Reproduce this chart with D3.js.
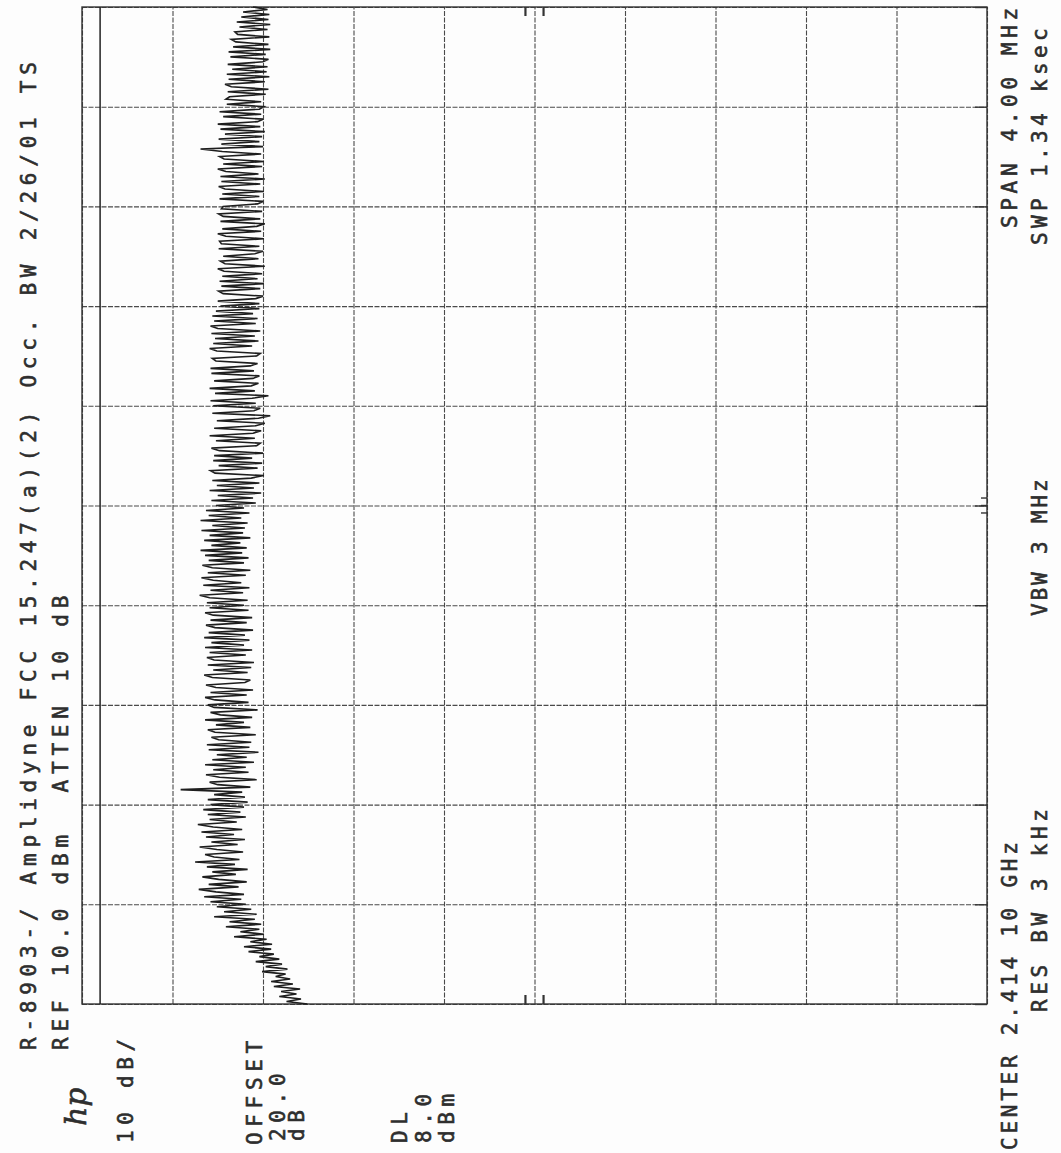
<!DOCTYPE html>
<html lang="en">
<head>
<meta charset="utf-8">
<title>Amplidyne FCC 15.247(a)(2) Occ. BW</title>
<script src="https://d3js.org/d3.v7.min.js"></script>
<style>
  body { margin: 0; background: #fff; }
  text { font-family: "DejaVu Sans Mono", monospace; fill: #2e2e2e; stroke: #2e2e2e; stroke-width: 0.6px; }
</style>
</head>
<body>
<script>
// analyzer settings
var refLevel = 10;          // dBm, left edge
var dbPerDiv = 10;
var divisions = 10;
var displayLine = 8.0;      // DL, dBm
var centerFreq = 2414.10;   // MHz
var spanMHz = 4.00;

// trace, amplitude in dBm, from start of sweep (bottom) to stop (top), 40 points a division
var trace = [
  -14.9,-12.6,-14.2,-11.8,-13.7,-12.0,-14.1,-11.2,-13.3,-10.9,
  -13.0,-11.4,-12.5,-9.9,-12.7,-10.3,-12.1,-9.2,-11.8,-9.6,
  -11.2,-8.4,-10.9,-7.9,-11.0,-8.6,-10.4,-6.8,-10.1,-7.5,
  -9.6,-5.9,-9.8,-6.3,-9.1,-4.6,-9.3,-5.7,-8.7,-4.9,

  -8.1,-4.2,-7.6,-3.5,-7.9,-4.8,-2.9,-7.3,-4.0,-8.2,
  -5.1,-3.3,-7.0,-4.4,-8.3,-3.8,-6.9,-2.5,-7.4,-4.6,
  -3.6,-7.8,-4.9,-3.0,-7.2,-4.3,-8.0,-3.7,-6.8,-3.2,
  -7.7,-4.5,-2.8,-7.1,-4.1,-8.1,-3.9,-7.5,-3.4,-7.9,

  -4.2,-8.3,-3.9,-8.0,-4.6,-7.7,-0.9,-8.6,-5.0,-4.1,
  -9.3,-5.2,-3.7,-8.4,-4.5,-8.1,-3.6,-9.0,-4.4,-8.2,
  -4.9,-9.5,-4.0,-8.5,-3.8,-8.7,-5.1,-4.3,-9.2,-4.7,
  -3.9,-8.6,-4.8,-7.9,-3.6,-8.8,-5.3,-4.2,-9.4,-4.6,

  -3.9,-8.4,-4.7,-3.6,-8.2,-4.2,-8.9,-4.8,-3.7,-8.0,
  -8.6,-4.4,-3.5,-8.3,-4.5,-8.7,-3.9,-9.0,-4.6,-3.8,
  -8.1,-4.1,-8.8,-3.6,-7.9,-4.3,-8.5,-3.5,-8.0,-4.0,
  -8.9,-4.7,-3.7,-8.2,-4.2,-8.8,-4.5,-3.6,-8.4,-4.1,

  -7.9,-3.8,-8.3,-4.1,-3.0,-7.8,-4.2,-8.5,-3.4,-7.6,
  -4.5,-3.2,-8.1,-3.9,-8.6,-4.4,-3.3,-7.9,-4.0,-8.4,
  -3.6,-7.7,-3.1,-8.2,-4.3,-7.5,-3.5,-8.6,-4.1,-7.8,
  -3.2,-8.0,-4.4,-8.3,-3.1,-7.6,-4.0,-8.5,-3.7,-7.9,

  -4.8,-9.2,-4.3,-8.9,-5.0,-9.8,-4.1,-9.0,-4.9,-9.6,
  -4.4,-8.7,-10.1,-4.7,-4.2,-9.4,-5.1,-9.9,-4.5,-8.8,
  -4.6,-10.0,-5.2,-4.3,-9.3,-9.7,-4.8,-9.1,-4.1,-8.9,
  -9.8,-4.6,-9.2,-10.2,-4.9,-9.5,-10.8,-4.4,-9.0,-9.7,

  -4.5,-9.2,-4.2,-8.8,-10.6,-4.7,-9.1,-4.1,-8.7,-9.5,
  -4.6,-8.9,-9.6,-4.3,-9.0,-4.2,-8.6,-9.4,-4.8,-4.4,
  -9.3,-9.7,-4.9,-4.1,-8.8,-4.5,-9.5,-4.7,-9.1,-4.3,
  -9.7,-5.0,-4.2,-9.2,-4.6,-9.4,-4.4,-8.9,-4.8,-9.6,

  -5.3,-9.6,-5.0,-9.2,-10.0,-5.6,-5.1,-9.7,-5.4,-10.1,
  -5.2,-9.4,-5.5,-9.9,-5.7,-5.0,-10.2,-5.8,-5.3,-9.5,
  -5.6,-9.1,-10.0,-5.1,-9.6,-5.4,-5.2,-10.1,-5.9,-5.0,
  -9.8,-5.5,-9.3,-10.2,-5.3,-9.7,-5.6,-5.1,-9.9,-5.4,

  -5.6,-9.4,-10.0,-5.2,-9.6,-5.5,-10.1,-5.8,-5.1,-9.7,
  -5.4,-10.2,-5.3,-9.5,-5.9,-5.0,-9.9,-5.6,-10.1,-5.7,
  -5.2,-9.8,-5.5,-3.1,-10.0,-5.4,-9.6,-5.1,-9.9,-5.8,
  -10.2,-5.3,-9.7,-5.0,-9.4,-10.0,-5.6,-9.8,-5.2,-9.6,

  -10.1,-6.0,-9.8,-5.9,-6.3,-10.3,-6.1,-10.6,-6.5,-5.8,
  -10.2,-6.2,-10.7,-6.0,-10.4,-6.6,-10.5,-6.1,-10.0,-10.6,
  -6.4,-10.3,-6.2,-10.8,-6.7,-10.6,-7.0,-6.5,-10.7,-7.2,
  -6.9,-10.5,-7.4,-10.8,-7.1,-10.6,-7.6,-10.7,-7.8,-10.5,-8.9
];

// annotation text, all printed sideways
var annotations = [
  { t: "R-8903-/ Amplidyne FCC 15.247(a)(2) Occ. BW 2/26/01 TS", x: 36, y: 1050, p: 18.4 },
  { t: "REF 10.0 dBm  ATTEN 10 dB", x: 68, y: 1050, p: 18.4 },
  { t: "10 dB/", x: 133, y: 1143, p: 18.3 },
  { t: "OFFSET", x: 262, y: 1145, p: 18.3 },
  { t: "20.0", x: 285, y: 1141, p: 18.3 },
  { t: "dB", x: 304, y: 1141, p: 18.3 },
  { t: "DL", x: 407, y: 1143, p: 18.3 },
  { t: "8.0", x: 431, y: 1143, p: 18.3 },
  { t: "dBm", x: 454, y: 1143, p: 18.3 },
  { t: "CENTER 2.414 10 GHz", x: 1017, y: 1150, p: 16.4 },
  { t: "RES BW 3 kHz", x: 1047, y: 1012, p: 17.3 },
  { t: "VBW 3 MHz", x: 1047, y: 616, p: 15.5 },
  { t: "SPAN 4.00 MHz", x: 1017, y: 228, p: 17.3 },
  { t: "SWP 1.34 ksec", x: 1047, y: 245, p: 17.0 }
];

var W = 1061, H = 1153;
var plotL = 82, plotR = 987, plotT = 7, plotB = 1004;

var svg = d3.select("body").append("svg")
  .attr("width", W)
  .attr("height", H);

svg.append("rect").attr("width", W).attr("height", H).attr("fill", "#fdfdfd");

// amplitude runs left to right (ref at left), frequency bottom to top
var amp = d3.scaleLinear()
  .domain([refLevel, refLevel - dbPerDiv * divisions])
  .range([plotL, plotR]);

var freq = d3.scaleLinear()
  .domain([centerFreq - spanMHz / 2, centerFreq + spanMHz / 2])
  .range([plotB, plotT]);

var ampTicks = d3.range(0, divisions + 1).map(function(i) { return refLevel - i * dbPerDiv; });
var freqTicks = d3.range(0, divisions + 1).map(function(i) { return centerFreq - spanMHz / 2 + i * spanMHz / divisions; });

// grid from axes, labels switched off
var gx = svg.append("g")
  .attr("transform", "translate(0," + plotB + ")")
  .call(d3.axisTop(amp).tickValues(ampTicks).tickSize(plotB - plotT).tickFormat(""));
var gy = svg.append("g")
  .attr("transform", "translate(" + plotL + ",0)")
  .call(d3.axisRight(freq).tickValues(freqTicks).tickSize(plotR - plotL).tickFormat(""));

[gx, gy].forEach(function(g) {
  g.select(".domain").remove();
  g.selectAll("line")
    .attr("stroke", "#4a4a4a")
    .attr("stroke-width", 1.1)
    .attr("stroke-dasharray", "5,1.5");
});

// short solid ticks where grid meets the right edge
svg.append("g")
  .attr("transform", "translate(" + plotR + ",0)")
  .call(d3.axisLeft(freq).tickValues(freqTicks).tickSize(12).tickFormat(""))
  .call(function(g) {
    g.select(".domain").remove();
    g.selectAll("line").attr("stroke", "#333").attr("stroke-width", 1.4);
  });

// frame
svg.append("rect")
  .attr("x", plotL).attr("y", plotT)
  .attr("width", plotR - plotL).attr("height", plotB - plotT)
  .attr("fill", "none")
  .attr("stroke", "#333")
  .attr("stroke-width", 1.4);

// display line
svg.append("line")
  .attr("x1", amp(displayLine)).attr("x2", amp(displayLine))
  .attr("y1", plotT).attr("y2", plotB)
  .attr("stroke", "#222")
  .attr("stroke-width", 1.5);

// centre marks on the frame
var midAmp = refLevel - dbPerDiv * divisions / 2;
[plotT, plotB].forEach(function(yy) {
  [-1.0, 1.0].forEach(function(d) {
    svg.append("line")
      .attr("x1", amp(midAmp + d)).attr("x2", amp(midAmp + d))
      .attr("y1", yy === plotT ? yy : yy - 9).attr("y2", yy === plotT ? yy + 9 : yy)
      .attr("stroke", "#333").attr("stroke-width", 2.2);
  });
});
[-0.03, 0, 0.03].forEach(function(d) {
  svg.append("line")
    .attr("x1", plotR - 6).attr("x2", plotR)
    .attr("y1", freq(centerFreq + d)).attr("y2", freq(centerFreq + d))
    .attr("stroke", "#333").attr("stroke-width", 1.4);
});

// trace
var line = d3.line()
  .x(function(d) { return amp(d); })
  .y(function(d, i) { return freq(centerFreq - spanMHz / 2 + i * spanMHz / (trace.length - 1)); });

svg.append("path")
  .datum(trace)
  .attr("d", line)
  .attr("fill", "none")
  .attr("stroke", "#1e1e1e")
  .attr("stroke-width", 1.6)
  .attr("stroke-linejoin", "miter");

// sideways text
var fs = 21, adv = 0.602 * fs;
svg.selectAll("text.ann")
  .data(annotations)
  .enter()
  .append("text")
  .attr("class", "ann")
  .attr("transform", function(d) { return "translate(" + d.x + "," + d.y + ") rotate(-90)"; })
  .attr("font-size", fs)
  .style("letter-spacing", function(d) { return (d.p - adv) + "px"; })
  .style("white-space", "pre")
  .text(function(d) { return d.t; });

// hp logo
svg.append("text")
  .attr("transform", "translate(86,1126) rotate(-90)")
  .attr("font-size", 30)
  .style("font-family", "DejaVu Serif")
  .style("font-style", "italic")
  .text("hp");
</script>
</body>
</html>
